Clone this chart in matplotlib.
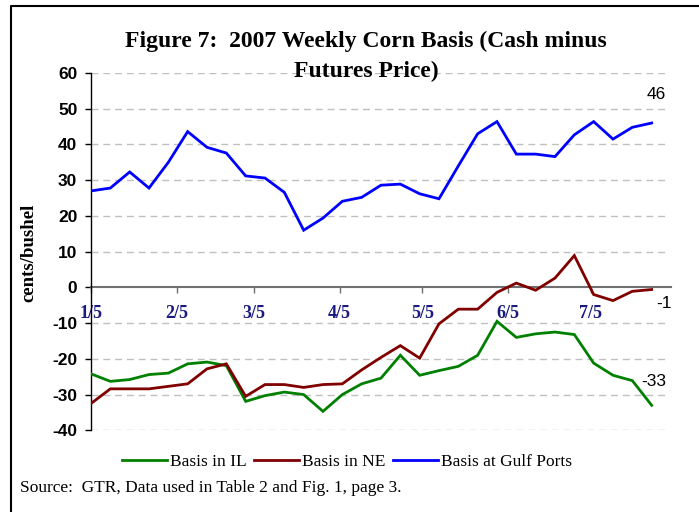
import matplotlib
matplotlib.use("Agg")
import matplotlib.pyplot as plt
import matplotlib.dates as mdates
from matplotlib.lines import Line2D
import numpy as np
import datetime as dt

# ---- data ----
start_date = "2007-01-05"
n_weeks = 30
gulf = [27.0, 27.8, 32.3, 27.8, 35.0, 43.6, 39.2, 37.6, 31.2, 30.6,
        26.6, 16.0, 19.4, 24.1, 25.2, 28.6, 28.9, 26.2, 24.8, 34.0,
        43.0, 46.4, 37.3, 37.3, 36.6, 42.7, 46.4, 41.5, 44.8, 46.0]
il = [-24.2, -26.3, -25.8, -24.4, -24.0, -21.4, -20.9, -21.9, -31.9, -30.3,
      -29.3, -30.0, -34.7, -30.0, -27.0, -25.4, -19.0, -24.6, -23.3, -22.1,
      -19.0, -9.5, -14.0, -13.0, -12.5, -13.2, -21.2, -24.6, -26.1, -33.0]
ne = [-32.5, -28.4, -28.4, -28.4, -27.7, -27.0, -22.8, -21.4, -30.5, -27.2,
      -27.2, -28.0, -27.2, -27.0, -23.1, -19.6, -16.3, -19.8, -10.2, -6.1,
      -6.1, -1.4, 1.2, -0.8, 2.6, 8.9, -2.0, -3.7, -1.1, -0.6]
end_labels = ["-33", "-1", "46"]
tick_dates = ["2007-01-05", "2007-02-05", "2007-03-05", "2007-04-05",
              "2007-05-05", "2007-06-05", "2007-07-05"]
tick_labels = ["1/5", "2/5", "3/5", "4/5", "5/5", "6/5", "7/5"]
series_names = ["Basis in IL", "Basis in NE", "Basis at Gulf Ports"]

dates = np.arange(np.datetime64(start_date), np.datetime64(start_date) + np.timedelta64(7 * n_weeks, 'D'),
                  np.timedelta64(7, 'D')).astype('datetime64[D]').astype(dt.datetime)

W, H = 699, 512
fig = plt.figure(figsize=(W / 100, H / 100), dpi=100)
fig.patch.set_facecolor("white")

ax = fig.add_axes([91 / W, 1 - 430.3 / H, (671 - 91) / W, (430.3 - 73) / H])
ax.set_facecolor("white")

x0 = dates[0]
x1 = dates[0] + dt.timedelta(days=7 * n_weeks)
ax.set_xlim(mdates.date2num(x0), mdates.date2num(x1))
ax.set_ylim(-40, 60)

# grid
for v in range(-40, 61, 10):
    if v == 0:
        continue
    ax.axhline(v, xmax=(667 - 91) / (671 - 91), color="#C0C0C0", lw=1.0,
               dashes=(5, 3.5), zorder=1)

# lines
colors = ["#008000", "#800000", "#0000FF"]
for vals, c, name in zip([il, ne, gulf], colors, series_names):
    ax.plot(dates, vals, color=c, lw=2.0, label=name, zorder=3,
            solid_joinstyle="miter")

# end labels
offsets = [(2, 24), (12, -14), (5, 29)]
for vals, lab, off in zip([il, ne, gulf], end_labels, offsets):
    ax.annotate(lab, xy=(mdates.date2num(dates[-1]), vals[-1]),
                xytext=(off[0] * 0.72, off[1] * 0.72), textcoords="offset points",
                ha="center", va="center", fontsize=12.5, family="Liberation Sans",
                color="black")

# spines
ax.spines["top"].set_visible(False)
ax.spines["right"].set_visible(False)
ax.spines["left"].set_color("black")
ax.spines["left"].set_linewidth(1.0)
ax.spines["bottom"].set_position(("data", 0))
ax.spines["bottom"].set_color("#707070")
ax.spines["bottom"].set_linewidth(1.5)
ax.spines["bottom"].set_zorder(2)

ax.set_yticks(range(-40, 61, 10))
ax.set_yticklabels([str(v) for v in range(-40, 61, 10)], fontsize=12.5,
                   fontweight="bold", family="Liberation Sans")
ax.tick_params(axis="y", direction="out", length=4.3, width=1.0, pad=5.5, color="black")

ax.set_xticks([mdates.date2num(np.datetime64(d).astype(dt.datetime)) for d in tick_dates])
ax.set_xticklabels(tick_labels, fontsize=13, fontweight="bold",
                   family="Liberation Serif", color="#1A1A80")
ax.tick_params(axis="x", direction="out", length=4, width=1.0, pad=9, color="#707070")

ax.set_ylabel("cents/bushel", fontsize=13.5, fontweight="bold", family="Liberation Serif")
ax.yaxis.set_label_coords((37 - 91) / 580, (430.3 - 252.5) / (430.3 - 73))

# title
fig.text(366 / W, 1 - 46.7 / H, "Figure 7:  2007 Weekly Corn Basis (Cash minus",
         ha="center", va="baseline", fontsize=17, fontweight="bold", family="Liberation Serif")
fig.text(366 / W, 1 - 76.7 / H, "Futures Price)",
         ha="center", va="baseline", fontsize=17, fontweight="bold", family="Liberation Serif")

# legend
handles = [Line2D([], [], color=c, lw=2.0) for c in colors]
fig.legend(handles, series_names, loc="center", bbox_to_anchor=(347 / W, 1 - 462 / H),
           ncol=3, frameon=False, prop={"family": "Liberation Serif", "size": 12.5},
           handlelength=2.6, handletextpad=0.2, columnspacing=0.4)

# source
fig.text(20 / W, 1 - 488 / H, "Source:  GTR, Data used in Table 2 and Fig. 1, page 3.",
         ha="left", va="center", fontsize=12.5, family="Liberation Serif")

# border (top and left)
fig.add_artist(Line2D([11 / W, 11 / W, 1.0], [0.0, 1 - 6 / H, 1 - 6 / H],
                      transform=fig.transFigure, color="black", lw=1.5))

fig.savefig("out.png", dpi=100, facecolor="white")
